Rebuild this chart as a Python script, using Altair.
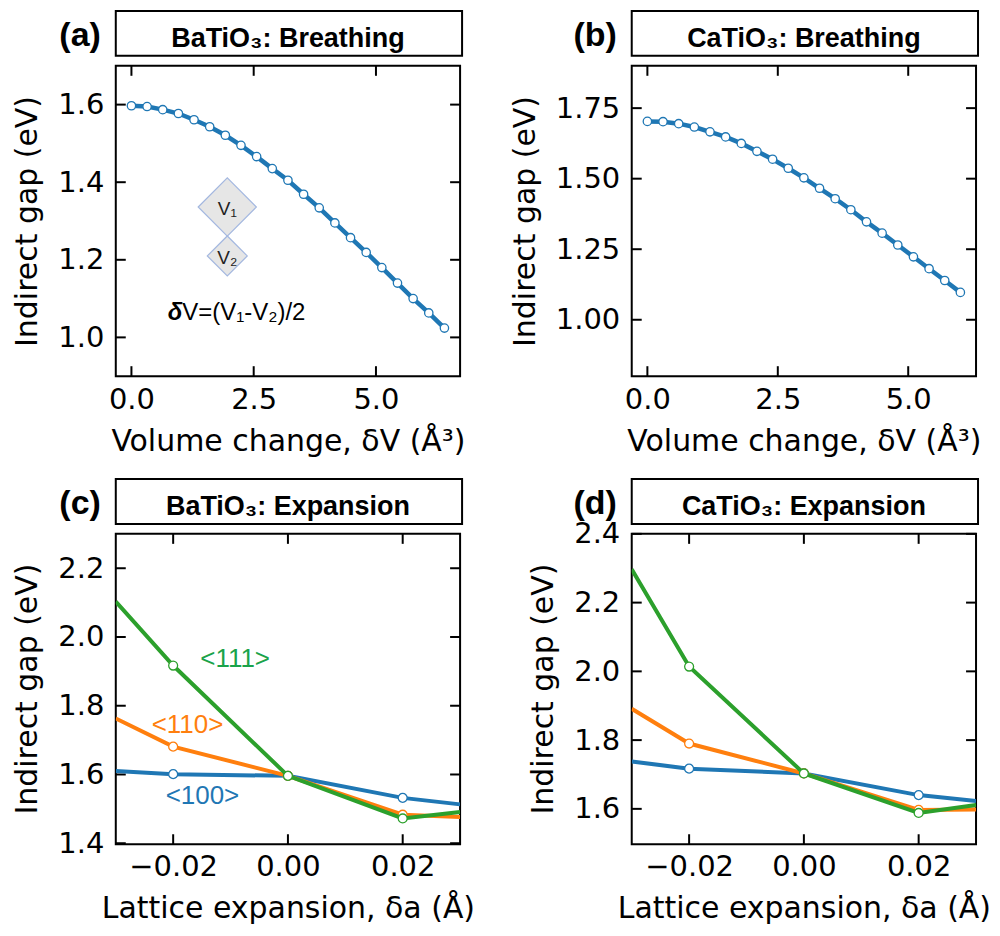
import altair as alt
import pandas as pd

# ---------------- data ----------------
# (a) BaTiO3 breathing
dv_a = [0.0, 0.32, 0.64, 0.96, 1.28, 1.6, 1.92, 2.24, 2.56, 2.88, 3.2,
        3.52, 3.84, 4.16, 4.48, 4.8, 5.12, 5.44, 5.76, 6.08, 6.4]
gap_a = [1.597, 1.595, 1.587, 1.577, 1.561, 1.543, 1.521, 1.495, 1.466, 1.435, 1.405,
         1.369, 1.334, 1.295, 1.257, 1.219, 1.180, 1.140, 1.100, 1.063, 1.024]
# (b) CaTiO3 breathing
dv_b = [0.0, 0.3, 0.6, 0.9, 1.2, 1.5, 1.8, 2.1, 2.4, 2.7, 3.0,
        3.3, 3.6, 3.9, 4.2, 4.5, 4.8, 5.1, 5.4, 5.7, 6.0]
gap_b = [1.703, 1.702, 1.695, 1.683, 1.666, 1.648, 1.625, 1.597, 1.569, 1.537, 1.503,
         1.466, 1.429, 1.390, 1.347, 1.307, 1.265, 1.223, 1.181, 1.139, 1.097]
# (c),(d) expansion; first/last values are where the lines meet the frame
da = [-0.03, -0.02, 0.0, 0.02, 0.03]
marker_da = [-0.02, 0.0, 0.02]
ba_100 = [1.610, 1.601, 1.596, 1.532, 1.513]
ba_110 = [1.763, 1.681, 1.596, 1.483, 1.476]
ba_111 = [2.103, 1.917, 1.596, 1.472, 1.491]
ca_100 = [1.738, 1.717, 1.703, 1.640, 1.623]
ca_110 = [1.891, 1.790, 1.703, 1.597, 1.598]
ca_111 = [2.297, 2.014, 1.703, 1.588, 1.611]
series_names = ["<100>", "<110>", "<111>"]
series_colors = ["#1f77b4", "#ff7f0e", "#2ca02c"]
label_colors = ["#1f77b4", "#ff7f0e", "#1aa34a"]
# series label positions in (c)
lab_x = [-0.0149, -0.0175, -0.0092]
lab_y = [1.536, 1.744, 1.935]

# inset annotation of (a)
dia_x = [1.96, 1.96]
dia_y = [1.336, 1.210]
dia_size = [3400, 1600]
dia_text = ["V\u2081", "V\u2082"]

W, H = 345, 311
AXF = "DejaVu Sans"
ARF = "Liberation Sans, Arial, sans-serif"
BLUE = "#1f77b4"


def axis_x(vals, fmt, title):
    return alt.Axis(values=vals, format=fmt, title=title, ticks=False, tickSize=0,
                    domain=False, grid=False, labelFont=AXF, labelFontSize=29,
                    labelColor="black", labelPadding=9, labelFlush=False,
                    labelOverlap=False, labelBound=False,
                    titleFont=AXF, titleFontSize=30, titleFontWeight="normal",
                    titleColor="black", titlePadding=12)


def axis_y(vals, fmt):
    return alt.Axis(values=vals, format=fmt, title="Indirect gap (eV)", ticks=False,
                    tickSize=0, domain=False, grid=False, labelFont=AXF,
                    labelFontSize=29, labelColor="black", labelPadding=12,
                    labelFlush=False, labelOverlap=False, labelBound=False,
                    titleFont=AXF, titleFontSize=30, titleFontWeight="normal",
                    titleColor="black", titlePadding=15)


def frame_and_ticks(xt, yt, XE, YE):
    tx = alt.Chart(pd.DataFrame({"x": xt}))
    ty = alt.Chart(pd.DataFrame({"y": yt}))
    rk = dict(color="black", strokeWidth=2)
    one = alt.Chart(pd.DataFrame({"k": [0]}))
    frame = one.mark_rect(fill="white", stroke="black", strokeWidth=2).encode(
        x=alt.value(0), x2=alt.value(W), y=alt.value(0), y2=alt.value(H))
    return [
        frame,
        tx.mark_rule(**rk).encode(x=XE, y=alt.value(H), y2=alt.value(H - 10)),
        tx.mark_rule(**rk).encode(x=XE, y=alt.value(0), y2=alt.value(10)),
        ty.mark_rule(**rk).encode(y=YE, x=alt.value(0), x2=alt.value(10)),
        ty.mark_rule(**rk).encode(y=YE, x=alt.value(W - 10), x2=alt.value(W)),
    ]


def header(title, tag):
    one = alt.Chart(pd.DataFrame({"k": [0]}))
    box = one.mark_rect(fill="white", stroke="black", strokeWidth=2).encode(
        x=alt.value(0), x2=alt.value(W + 2), y=alt.value(-55), y2=alt.value(-10))
    txt = one.mark_text(text=title, font=ARF, fontSize=27, fontWeight="bold",
                        align="center", baseline="alphabetic", color="black").encode(
        x=alt.value(W / 2), y=alt.value(-19))
    tg = one.mark_text(text=tag, font=ARF, fontSize=34, fontWeight="bold",
                       align="right", baseline="alphabetic", color="black").encode(
        x=alt.value(-15), y=alt.value(-20))
    return [box, txt, tg]


def breathing_panel(xs, ys, ydom, yt, yfmt, title, tag, inset=False):
    df = pd.DataFrame({"x": xs, "y": ys})
    xsc = alt.Scale(domain=[-0.05 * xs[-1], 1.05 * xs[-1]], nice=False, zero=False)
    ysc = alt.Scale(domain=ydom, nice=False, zero=False)
    XE = alt.X("x:Q", scale=xsc, axis=axis_x([0.0, 2.5, 5.0], ".1f",
                                            "Volume change, \u03b4V (\u00c5\u00b3)"))
    YE = alt.Y("y:Q", scale=ysc, axis=axis_y(yt, yfmt))
    base = alt.Chart(df)
    line = base.mark_line(color=BLUE, strokeWidth=4.5).encode(x=XE, y=YE)
    pts = base.mark_point(shape="circle", filled=True, fill="white", stroke=BLUE,
                          strokeWidth=1.3, size=70, opacity=1).encode(x=XE, y=YE)
    layers = frame_and_ticks([0.0, 2.5, 5.0], yt, XE, YE) + [line, pts]
    if inset:
        layers += inset_a(XE, YE)
    layers += header(title, tag)
    return alt.layer(*layers).properties(width=W, height=H)


def inset_a(XE, YE):
    d = pd.DataFrame({"x": dia_x, "y": dia_y, "s": dia_size, "t": dia_text})
    b = alt.Chart(d)
    dia = b.mark_point(shape="diamond", filled=True, fill="#e6e6e6", stroke="#a4b8e0",
                       strokeWidth=1.2, opacity=1).encode(
        x=XE, y=YE, size=alt.Size("s:Q", scale=None, legend=None))
    tx = b.mark_text(font=ARF, fontSize=19, color="#222222", dy=2).encode(
        x=XE, y=YE, text="t:N")
    one = pd.DataFrame({"x": [1.04], "y": [1.045]})
    d1 = alt.Chart(one).mark_text(text="\u03b4", font=ARF, fontSize=24, fontWeight="bold",
                                  fontStyle="italic", align="right", baseline="alphabetic",
                                  color="black").encode(x=XE, y=YE)
    d2 = alt.Chart(one).mark_text(text="V=(V\u2081-V\u2082)/2", font=ARF, fontSize=24,
                                  align="left", baseline="alphabetic",
                                  color="black").encode(x=XE, y=YE)
    return [dia, tx, d1, d2]


def expansion_panel(vals, ydom, yt, title, tag, labels=False):
    xsc = alt.Scale(domain=[-0.03, 0.03], nice=False, zero=False)
    ysc = alt.Scale(domain=ydom, nice=False, zero=False)
    XE = alt.X("x:Q", scale=xsc, axis=axis_x([-0.02, 0.0, 0.02], ".2f",
                                            "Lattice expansion, \u03b4a (\u00c5)"))
    YE = alt.Y("y:Q", scale=ysc, axis=axis_y(yt, ".1f"))
    layers = frame_and_ticks([-0.02, 0.0, 0.02], yt, XE, YE)
    for name, col, ys in zip(series_names, series_colors, vals):
        df = pd.DataFrame({"x": da, "y": ys})
        ln = alt.Chart(df).mark_line(color=col, strokeWidth=4, clip=True).encode(x=XE, y=YE)
        pt = alt.Chart(df).transform_filter(
            alt.FieldOneOfPredicate(field="x", oneOf=marker_da)
        ).mark_point(shape="circle", filled=True, fill="white", stroke=col,
                     strokeWidth=1.3, size=80, opacity=1, clip=True).encode(x=XE, y=YE)
        layers += [ln, pt]
    if labels:
        ld = pd.DataFrame({"x": lab_x, "y": lab_y, "t": series_names, "c": label_colors})
        lt = alt.Chart(ld).mark_text(font=ARF, fontSize=26, align="center",
                                     baseline="middle").encode(
            x=XE, y=YE, text="t:N", color=alt.Color("c:N", scale=None, legend=None))
        layers.append(lt)
    layers += header(title, tag)
    return alt.layer(*layers).properties(width=W, height=H - 1)


pa = breathing_panel(dv_a, gap_a, [0.9, 1.7], [1.0, 1.2, 1.4, 1.6], ".1f",
                     "BaTiO\u2083: Breathing", "(a)", inset=True)
pb = breathing_panel(dv_b, gap_b, [0.8, 1.9], [1.0, 1.25, 1.5, 1.75], ".2f",
                     "CaTiO\u2083: Breathing", "(b)")
pc = expansion_panel([ba_100, ba_110, ba_111], [1.4, 2.3], [1.4, 1.6, 1.8, 2.0, 2.2],
                     "BaTiO\u2083: Expansion", "(c)", labels=True)
pd_ = expansion_panel([ca_100, ca_110, ca_111], [1.5, 2.4], [1.6, 1.8, 2.0, 2.2, 2.4],
                      "CaTiO\u2083: Expansion", "(d)")

chart = alt.concat(pa, pb, pc, pd_, columns=2, bounds="flush",
                   spacing={"row": 158, "column": 172})
chart = chart.properties(padding={"left": 4, "top": 0, "right": 0, "bottom": 0}
                         ).configure_view(strokeWidth=0
                         ).configure(background="white")

chart.save("out.html", embed_options={"renderer": "svg", "actions": False})
